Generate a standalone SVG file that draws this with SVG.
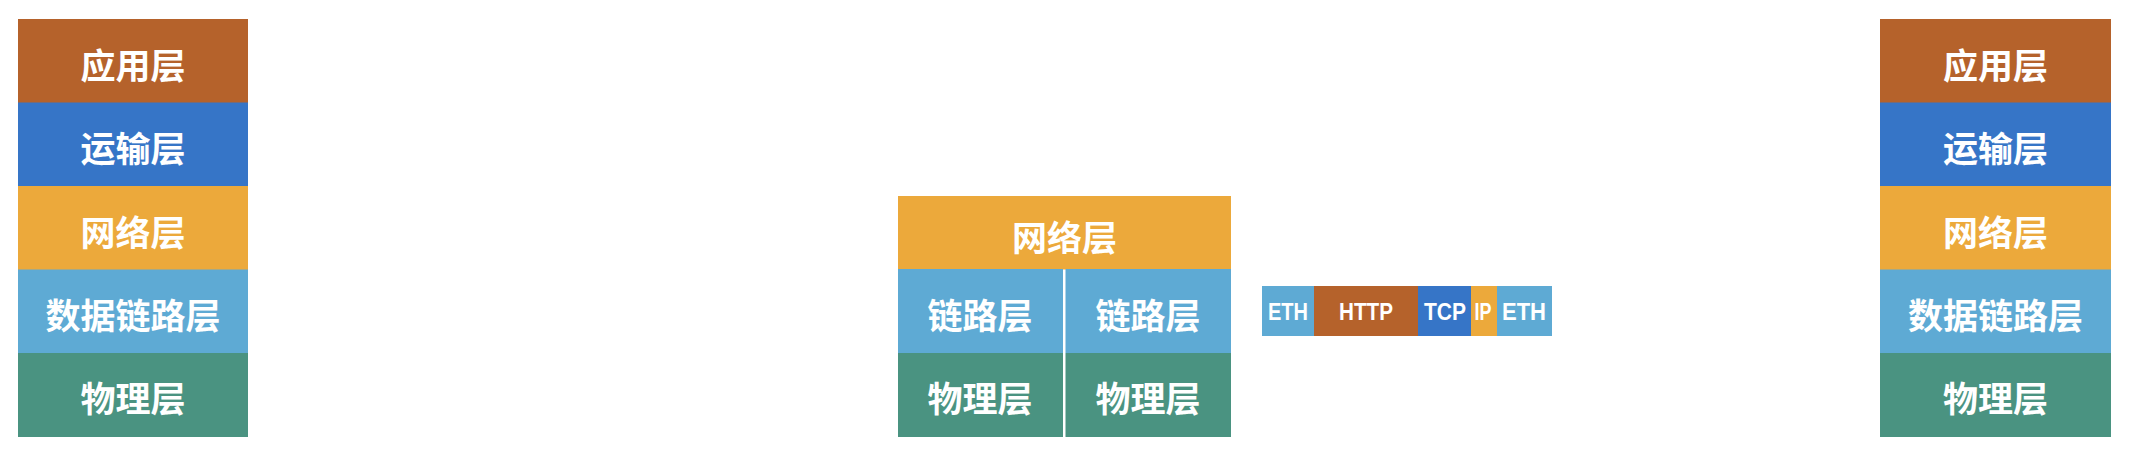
<svg xmlns="http://www.w3.org/2000/svg" width="2132" height="464" viewBox="0 0 2132 464">
<style>
.app{fill:#B5622B}
.tra{fill:#3675C7}
.net{fill:#ECA93B}
.lnk{fill:#5EAAD4}
.phy{fill:#4A9381}
.t{font-family:"Noto Sans CJK SC","Noto Sans",sans-serif;font-weight:bold;font-size:35px;fill:#fff;text-anchor:middle;dominant-baseline:central}
.p{font-family:"Liberation Sans","Noto Sans",sans-serif;font-weight:bold;font-size:24px;fill:#fff;text-anchor:middle}
</style>
<rect width="2132" height="464" fill="#fff"/>
<g id="left-stack">
<g id="l-app"><rect class="app" x="18" y="19" width="230" height="84"/><text class="t" x="133" y="63">应用层</text></g>
<g id="l-tra"><rect class="tra" x="18" y="102.5" width="230" height="84"/><text class="t" x="133" y="146">运输层</text></g>
<g id="l-net"><rect class="net" x="18" y="186" width="230" height="84"/><text class="t" x="133" y="230">网络层</text></g>
<g id="l-lnk"><rect class="lnk" x="18" y="269.5" width="230" height="84"/><text class="t" x="133" y="313">数据链路层</text></g>
<g id="l-phy"><rect class="phy" x="18" y="353" width="230" height="84"/><text class="t" x="133" y="396">物理层</text></g>
</g>
<g id="router">
<g id="r-net"><rect class="net" x="898" y="196" width="333" height="73.5"/><text class="t" x="1064.5" y="235">网络层</text></g>
<g id="r-lnk1"><rect class="lnk" x="898" y="269" width="165" height="84"/><text class="t" x="980" y="313">链路层</text></g>
<g id="r-lnk2"><rect class="lnk" x="1065.5" y="269" width="165.5" height="84"/><text class="t" x="1148" y="313">链路层</text></g>
<g id="r-phy1"><rect class="phy" x="898" y="353" width="165" height="84"/><text class="t" x="980" y="396">物理层</text></g>
<g id="r-phy2"><rect class="phy" x="1065.5" y="353" width="165.5" height="84"/><text class="t" x="1148" y="396">物理层</text></g>
</g>
<g id="packet">
<g id="p-eth1"><rect class="lnk" x="1262" y="286" width="52" height="50"/><text class="p" x="1288" y="320" textLength="40" lengthAdjust="spacingAndGlyphs">ETH</text></g>
<g id="p-http"><rect class="app" x="1314" y="286" width="104" height="50"/><text class="p" x="1366" y="320" textLength="54" lengthAdjust="spacingAndGlyphs">HTTP</text></g>
<g id="p-tcp"><rect class="tra" x="1418" y="286" width="53" height="50"/><text class="p" x="1445" y="320" textLength="42" lengthAdjust="spacingAndGlyphs">TCP</text></g>
<g id="p-ip"><rect class="net" x="1471" y="286" width="26" height="50"/><text class="p" x="1483" y="320" textLength="17" lengthAdjust="spacingAndGlyphs">IP</text></g>
<g id="p-eth2"><rect class="lnk" x="1497" y="286" width="55" height="50"/><text class="p" x="1524" y="320" textLength="44" lengthAdjust="spacingAndGlyphs">ETH</text></g>
</g>
<g id="right-stack">
<g id="rs-app"><rect class="app" x="1880" y="19" width="231" height="84"/><text class="t" x="1995.5" y="63">应用层</text></g>
<g id="rs-tra"><rect class="tra" x="1880" y="102.5" width="231" height="84"/><text class="t" x="1995.5" y="146">运输层</text></g>
<g id="rs-net"><rect class="net" x="1880" y="186" width="231" height="84"/><text class="t" x="1995.5" y="230">网络层</text></g>
<g id="rs-lnk"><rect class="lnk" x="1880" y="269.5" width="231" height="84"/><text class="t" x="1995.5" y="313">数据链路层</text></g>
<g id="rs-phy"><rect class="phy" x="1880" y="353" width="231" height="84"/><text class="t" x="1995.5" y="396">物理层</text></g>
</g>
<g id="connectors"/>
</svg>
